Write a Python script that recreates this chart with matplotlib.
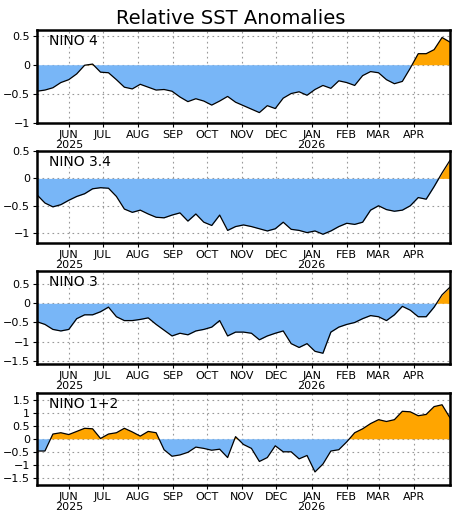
import numpy as np
import matplotlib
matplotlib.use("Agg")
import matplotlib.pyplot as plt
import matplotlib.dates as mdates
from datetime import datetime, timedelta

plt.rcParams.update({'font.family': 'DejaVu Sans', 'font.size': 8})

# Ukentlige verdier, fra 2025-05-04
start = datetime(2025, 5, 4)
n_weeks = 53

nino4 = [-0.45, -0.43, -0.39, -0.30, -0.25, -0.15, 0.0, 0.02, -0.12, -0.13,
         -0.25, -0.38, -0.41, -0.33, -0.38, -0.43, -0.42, -0.45, -0.55, -0.63,
         -0.58, -0.62, -0.69, -0.62, -0.54, -0.64, -0.70, -0.76, -0.82, -0.70,
         -0.75, -0.57, -0.49, -0.46, -0.52, -0.42, -0.35, -0.40, -0.27, -0.30,
         -0.35, -0.18, -0.11, -0.13, -0.25, -0.32, -0.28, -0.05, 0.20, 0.20,
         0.27, 0.48, 0.40]
nino34 = [-0.30, -0.45, -0.52, -0.48, -0.40, -0.33, -0.28, -0.19, -0.17, -0.18,
          -0.33, -0.56, -0.62, -0.58, -0.65, -0.71, -0.72, -0.67, -0.63, -0.78,
          -0.65, -0.80, -0.86, -0.67, -0.95, -0.88, -0.85, -0.88, -0.92, -0.96,
          -0.92, -0.80, -0.93, -0.95, -0.99, -0.96, -1.02, -0.96, -0.88, -0.82,
          -0.84, -0.80, -0.58, -0.50, -0.57, -0.60, -0.58, -0.50, -0.35, -0.38,
          -0.15, 0.10, 0.33]
nino3 = [-0.48, -0.55, -0.68, -0.72, -0.68, -0.40, -0.30, -0.30, -0.22, -0.10,
         -0.35, -0.45, -0.45, -0.42, -0.38, -0.55, -0.70, -0.85, -0.78, -0.82,
         -0.72, -0.68, -0.62, -0.45, -0.85, -0.75, -0.75, -0.78, -0.95, -0.85,
         -0.78, -0.72, -1.05, -1.15, -1.05, -1.25, -1.30, -0.75, -0.62, -0.55,
         -0.50, -0.40, -0.32, -0.35, -0.45, -0.30, -0.08, -0.18, -0.35, -0.35,
         -0.10, 0.22, 0.42]
nino12 = [-0.45, -0.45, 0.20, 0.25, 0.18, 0.30, 0.42, 0.40, 0.03, 0.20,
          0.25, 0.42, 0.28, 0.12, 0.30, 0.25, -0.40, -0.65, -0.60, -0.50,
          -0.30, -0.35, -0.42, -0.38, -0.70, 0.10, -0.20, -0.35, -0.85, -0.70,
          -0.25, -0.48, -0.48, -0.75, -0.62, -1.25, -0.95, -0.45, -0.40, -0.10,
          0.25, 0.40, 0.60, 0.75, 0.68, 0.75, 1.07, 1.05, 0.90, 0.95,
          1.25, 1.32, 0.82]

panels = [
    ("NINO 4", nino4, (-1.0, 0.61), [-1, -0.5, 0, 0.5], ["\u22121", "\u22120.5", "0", "0.5"]),
    ("NINO 3.4", nino34, (-1.18, 0.5), [-1, -0.5, 0, 0.5], ["\u22121", "\u22120.5", "0", "0.5"]),
    ("NINO 3", nino3, (-1.58, 0.84), [-1.5, -1, -0.5, 0, 0.5],
     ["\u22121.5", "\u22121", "\u22120.5", "0", "0.5"]),
    ("NINO 1+2", nino12, (-1.75, 1.77), [-1.5, -1, -0.5, 0, 0.5, 1, 1.5],
     ["\u22121.5", "\u22121", "\u22120.5", "0", "0.5", "1", "1.5"]),
]

BLUE = "#78b6f7"
ORANGE = "#ffa500"

dates = np.array([start + timedelta(days=7 * i) for i in range(n_weeks)])
x = mdates.date2num(dates)
xfine = np.linspace(x[0], x[-1], 2000)

fig = plt.figure(figsize=(4.61, 5.2), dpi=100)
fig.text(0.5, 0.965, "Relative SST Anomalies", ha="center", va="center", fontsize=14)

# topp/bunn i piksler for hvert panel
pix = [(30, 123), (151, 243), (271, 364), (393, 485)]
W, H = 461, 520
months = [datetime(2025, m, 1) for m in range(6, 13)] + [datetime(2026, m, 1) for m in range(1, 5)]

for (name, vals, ylim, yt, ytl), (top, bot) in zip(panels, pix):
    ax = fig.add_axes([37 / W, 1 - bot / H, (450 - 37) / W, (bot - top) / H])
    yf = np.interp(xfine, x, vals)
    ax.fill_between(xfine, 0, yf, where=yf <= 0, color=BLUE, lw=0, zorder=2)
    ax.fill_between(xfine, 0, yf, where=yf >= 0, color=ORANGE, lw=0, zorder=2)
    ax.plot(x, vals, color="black", lw=0.9, zorder=3)
    ax.set_xlim(x[0], x[-1])
    ax.set_ylim(*ylim)
    ax.set_yticks(yt)
    ax.set_yticklabels(ytl)
    ax.set_xticks(mdates.date2num(months))
    labels = [d.strftime("%b").upper() + ("\n2025" if (d.month, d.year) == (6, 2025) else
                                           "\n2026" if (d.month, d.year) == (1, 2026) else "")
              for d in months]
    ax.set_xticklabels(labels, fontsize=8, va="top", linespacing=0.95)
    ax.tick_params(axis="both", length=3, width=0.8, pad=2, labelsize=8)
    ax.grid(True, color="#999999", ls=(0, (1.5, 3)), lw=0.8, zorder=1)
    ax.set_axisbelow(True)
    for s in ax.spines.values():
        s.set_linewidth(1.8)
        s.set_zorder(4)
    ax.text(0.03, 0.96, name, transform=ax.transAxes, ha="left", va="top", fontsize=10, zorder=5)

plt.savefig("out.png", dpi=100)
